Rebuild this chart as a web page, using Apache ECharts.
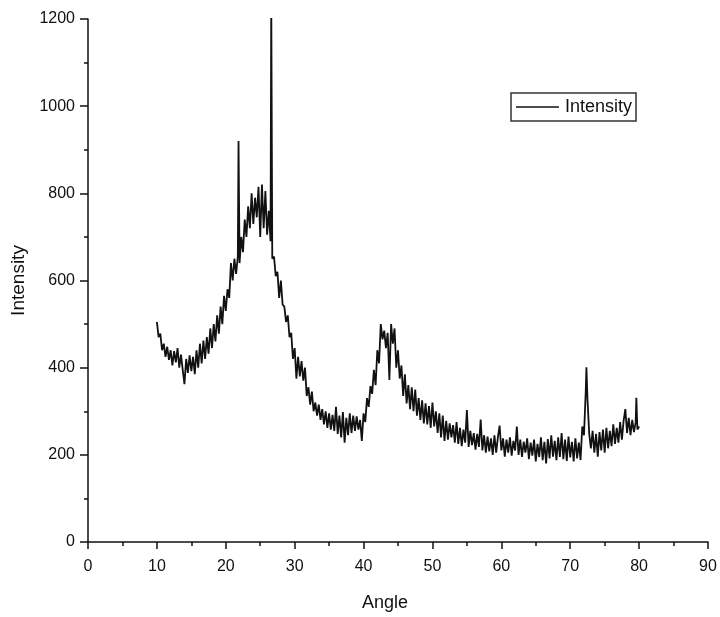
<!DOCTYPE html>
<html>
<head>
<meta charset="utf-8">
<script src="https://cdn.jsdelivr.net/npm/echarts@6/dist/echarts.min.js"></script>
<style>html,body{margin:0;padding:0;background:#fff}#c{width:720px;height:617px}</style>
</head>
<body>
<div id="c"></div>
<script>
var xTicks = [0, 10, 20, 30, 40, 50, 60, 70, 80, 90];
var yTicks = [0, 200, 400, 600, 800, 1000, 1200];
var angle = [
10.00,10.25,10.50,10.75,11.00,11.25,11.50,11.75,12.00,12.25,12.50,12.75,13.00,13.25,13.50,13.75,
14.00,14.25,14.50,14.75,15.00,15.25,15.50,15.75,16.00,16.25,16.50,16.75,17.00,17.25,17.50,17.75,
18.00,18.25,18.50,18.75,19.00,19.25,19.50,19.75,20.00,20.25,20.50,20.75,21.00,21.25,21.50,21.75,21.85,
22.00,22.25,22.50,22.75,23.00,23.25,23.50,23.75,24.00,24.25,24.50,24.75,25.00,25.25,25.50,25.75,
26.00,26.25,26.50,26.60,26.75,27.00,27.25,27.50,27.75,28.00,28.25,28.50,28.75,29.00,29.25,29.50,29.75,
30.00,30.25,30.50,30.75,31.00,31.25,31.50,31.75,32.00,32.25,32.50,32.75,33.00,33.25,33.50,33.75,
34.00,34.25,34.50,34.75,35.00,35.25,35.50,35.75,36.00,36.25,36.50,36.75,37.00,37.25,37.50,37.75,
38.00,38.25,38.50,38.75,39.00,39.25,39.50,39.75,40.00,40.25,40.50,40.75,41.00,41.25,41.50,41.75,
42.00,42.25,42.50,42.75,43.00,43.25,43.50,43.75,44.00,44.25,44.50,44.75,45.00,45.25,45.50,45.75,
46.00,46.25,46.50,46.75,47.00,47.25,47.50,47.75,48.00,48.25,48.50,48.75,49.00,49.25,49.50,49.75,
50.00,50.25,50.50,50.75,51.00,51.25,51.50,51.75,52.00,52.25,52.50,52.75,53.00,53.25,53.50,53.75,
54.00,54.25,54.50,54.75,55.00,55.25,55.50,55.75,56.00,56.25,56.50,56.75,57.00,57.25,57.50,57.75,
58.00,58.25,58.50,58.75,59.00,59.25,59.50,59.75,60.00,60.25,60.50,60.75,61.00,61.25,61.50,61.75,
62.00,62.25,62.50,62.75,63.00,63.25,63.50,63.75,64.00,64.25,64.50,64.75,65.00,65.25,65.50,65.75,
66.00,66.25,66.50,66.75,67.00,67.25,67.50,67.75,68.00,68.25,68.50,68.75,69.00,69.25,69.50,69.75,
70.00,70.25,70.50,70.75,71.00,71.25,71.50,71.75,72.00,72.25,72.35,72.50,72.75,73.00,73.25,73.50,73.75,
74.00,74.25,74.50,74.75,75.00,75.25,75.50,75.75,76.00,76.25,76.50,76.75,77.00,77.25,77.50,77.75,
78.00,78.25,78.50,78.75,79.00,79.25,79.50,79.60,79.75,80.00
];
var intensity = [
505,470,478,440,455,425,448,418,440,405,438,412,445,400,430,395,
362,420,388,428,392,425,385,440,400,455,410,462,420,470,432,490,
445,500,460,520,478,540,500,565,530,580,560,640,600,650,615,655,920,
640,700,665,740,700,770,720,800,730,790,745,815,700,820,720,805,
705,760,690,1250,650,655,610,620,560,600,545,540,505,520,470,480,420,
445,375,425,380,415,370,400,335,355,315,345,300,320,290,315,280,
305,270,300,262,295,258,292,255,310,248,290,240,298,228,285,245,
295,250,290,255,288,258,280,232,295,275,330,310,358,340,395,360,
440,410,500,465,485,445,480,372,500,455,490,400,440,375,405,335,
385,318,360,305,355,300,350,290,330,280,325,272,318,270,312,262,
320,265,300,250,295,240,290,232,278,235,272,240,268,228,275,225,
262,220,258,228,303,218,255,222,250,212,248,218,281,210,245,205,
242,208,238,200,245,205,240,267,210,238,196,235,205,240,198,232,
210,265,200,235,195,230,205,238,190,228,198,235,185,225,195,240,
188,230,180,236,192,245,196,232,188,240,195,250,190,235,186,242,
194,230,185,238,192,228,188,265,245,345,401,330,250,215,255,205,248,
196,252,210,258,205,262,215,255,220,270,225,262,228,275,235,278,
305,250,285,245,280,252,275,331,258,265
];
var seriesName = 'Intensity';
var xName = 'Angle';
var yName = 'Intensity';

var data = angle.map(function (a, i) { return [a, intensity[i]]; });
var font = '"Liberation Sans", Arial, sans-serif';
var plain = function (v) { return String(v); };
var chart = echarts.init(document.getElementById('c'));
chart.setOption({
  animation: false,
  backgroundColor: '#fff',
  grid: { left: 88, top: 19, right: 12, bottom: 72, containLabel: false },
  legend: {
    left: 511, top: 93,
    data: [{ name: seriesName, icon: 'rect' }],
    itemWidth: 43, itemHeight: 1.5, itemGap: 6,
    borderColor: '#333', borderWidth: 1.5, borderRadius: 0,
    padding: [5, 4, 5, 5],
    textStyle: { fontFamily: font, fontSize: 18, color: '#111', padding: [0, 0, 0, 1] }
  },
  xAxis: {
    type: 'value', min: xTicks[0], max: xTicks[xTicks.length - 1], interval: 10,
    name: xName, nameLocation: 'middle', nameGap: 52,
    nameTextStyle: { fontFamily: font, fontSize: 18, color: '#111', padding: [0, 26, 0, 0] },
    axisLine: { lineStyle: { color: '#111', width: 1.5 } },
    axisTick: { show: true, inside: false, length: 7, lineStyle: { color: '#111', width: 1.5 } },
    minorTick: { show: true, splitNumber: 2, length: 4, lineStyle: { color: '#111', width: 1.5 } },
    axisLabel: { fontFamily: font, fontSize: 16, color: '#111', margin: 17, formatter: plain },
    splitLine: { show: false }
  },
  yAxis: {
    type: 'value', min: yTicks[0], max: yTicks[yTicks.length - 1], interval: 200,
    name: yName, nameLocation: 'middle', nameGap: 57, nameRotate: 90,
    nameTextStyle: { fontFamily: font, fontSize: 19, color: '#111' },
    axisLine: { show: true, lineStyle: { color: '#111', width: 1.5 } },
    axisTick: { show: true, inside: false, length: 8, lineStyle: { color: '#111', width: 1.5 } },
    minorTick: { show: true, splitNumber: 2, length: 4, lineStyle: { color: '#111', width: 1.5 } },
    axisLabel: { fontFamily: font, fontSize: 16, color: '#111', margin: 13, formatter: plain },
    splitLine: { show: false }
  },
  series: [{
    name: seriesName, type: 'line', data: data,
    showSymbol: false, symbol: 'none', clip: true,
    lineStyle: { color: '#111', width: 1.8 },
    itemStyle: { color: '#111' }
  }]
});
</script>
</body>
</html>
